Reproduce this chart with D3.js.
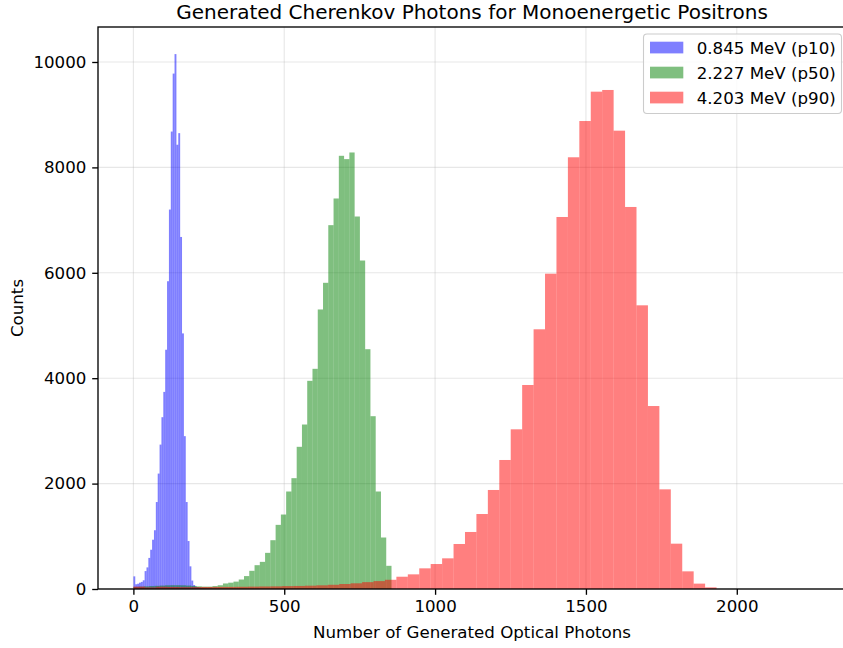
<!DOCTYPE html>
<html>
<head>
<meta charset="utf-8">
<script src="https://cdn.jsdelivr.net/npm/d3@7"></script>
<style>
  body { margin: 0; background: #fff; }
  svg { display: block; font-family: "DejaVu Sans", sans-serif; }
</style>
</head>
<body>
<div id="chart"></div>
<script>
// histogram counts, one value per bin
var blueCounts = [240, 90, 100, 120, 135, 165, 340, 410, 590, 745,
                  935, 1115, 1650, 2190, 2740, 3260, 3740, 4540, 5840, 7200,
                  8680, 9780, 10150, 8430, 8650, 6680, 4850, 2900, 1650, 910,
                  430, 160, 75, 45, 35, 28, 22, 18, 15, 12,
                  10, 8, 6, 5, 4, 3, 2, 2, 1, 1];
var greenCounts = [40, 45, 50, 55, 60, 65, 70, 72, 72, 70,
                   65, 58, 50, 45, 45, 55, 71, 105, 120, 140,
                   180, 245, 345, 452, 515, 686, 926, 1217, 1413, 1850,
                   2103, 2698, 3121, 3950, 4178, 5304, 5810, 6904, 7410, 8220,
                   8157, 8283, 7068, 6233, 4550, 3279, 1850, 977, 440];
var redCounts = [45, 30, 42, 38, 35, 36, 38, 40, 40, 42,
                 45, 48, 50, 55, 58, 63, 70, 80, 95, 108,
                 130, 150, 175, 233, 278, 392, 474, 582, 854, 1082,
                 1423, 1879, 2448, 3030, 3871, 4928, 5983, 7059, 8192, 8880,
                 9437, 9469, 8697, 7249, 5383, 3472, 1891, 860, 335, 102, 31];

// bin start and bin width of each histogram (photons)
var binStarts = [0, 0, 0];
var binWidths = [6.2, 17.46, 37.9];

var seriesNames = ["0.845 MeV (p10)", "2.227 MeV (p50)", "4.203 MeV (p90)"];
var seriesColors = ["blue", "green", "red"];

var xTicks = [0, 500, 1000, 1500, 2000];
var yTicks = [0, 2000, 4000, 6000, 8000, 10000];

var W = 843, H = 648;
var fs = 16.67;   // 10pt
var margin = {top: 27, left: 98, right: 846, bottom: 589};

var svg = d3.select("#chart").append("svg")
    .attr("width", W)
    .attr("height", H);

var x = d3.scaleLinear()
    .domain([-117.3, 2362])
    .range([margin.left, margin.right]);

var y = d3.scaleLinear()
    .domain([0, 10664])
    .range([margin.bottom, margin.top]);

// grid
var grid = svg.append("g").attr("stroke", "#b0b0b0").attr("stroke-opacity", 0.3).attr("stroke-width", 1.1);
grid.selectAll(".gx").data(xTicks).join("line")
    .attr("x1", d => x(d)).attr("x2", d => x(d))
    .attr("y1", margin.top).attr("y2", margin.bottom);
grid.selectAll(".gy").data(yTicks).join("line")
    .attr("x1", margin.left).attr("x2", margin.right)
    .attr("y1", d => y(d)).attr("y2", d => y(d));

// histograms
var allCounts = [blueCounts, greenCounts, redCounts];
allCounts.forEach(function(counts, s) {
    var bins = counts.map(function(c, i) {
        return {x0: binStarts[s] + i * binWidths[s], x1: binStarts[s] + (i + 1) * binWidths[s], n: c};
    });
    svg.append("g")
        .attr("fill", seriesColors[s])
        .attr("fill-opacity", 0.5)
      .selectAll("rect")
      .data(bins)
      .join("rect")
        .attr("x", d => x(d.x0))
        .attr("width", d => x(d.x1) - x(d.x0))
        .attr("y", d => y(d.n))
        .attr("height", d => y(0) - y(d.n));
});

// axes
var xAxisG = svg.append("g")
    .attr("transform", "translate(0," + margin.bottom + ")")
    .call(d3.axisBottom(x).tickValues(xTicks).tickSize(5.8).tickPadding(5.8).tickFormat(d3.format("d")));
var yAxisG = svg.append("g")
    .attr("transform", "translate(" + margin.left + ",0)")
    .call(d3.axisLeft(y).tickValues(yTicks).tickSize(5.8).tickPadding(5.8).tickFormat(d3.format("d")));
[xAxisG, yAxisG].forEach(function(g) {
    g.select(".domain").remove();
    g.selectAll("line").attr("stroke", "#000").attr("stroke-width", 1.33);
    g.selectAll("text").attr("font-size", fs).attr("fill", "#000")
        .attr("font-family", "DejaVu Sans");
});

// spines
svg.append("rect")
    .attr("x", margin.left).attr("y", margin.top)
    .attr("width", margin.right - margin.left)
    .attr("height", margin.bottom - margin.top)
    .attr("fill", "none").attr("stroke", "#000").attr("stroke-width", 1.33);

// labels
svg.append("text")
    .attr("x", (margin.left + margin.right) / 2)
    .attr("y", 19)
    .attr("text-anchor", "middle")
    .attr("font-size", 20)
    .text("Generated Cherenkov Photons for Monoenergetic Positrons");

svg.append("text")
    .attr("x", (margin.left + margin.right) / 2)
    .attr("y", 638)
    .attr("text-anchor", "middle")
    .attr("font-size", fs)
    .text("Number of Generated Optical Photons");

svg.append("text")
    .attr("transform", "translate(23," + (margin.top + margin.bottom) / 2 + ") rotate(-90)")
    .attr("text-anchor", "middle")
    .attr("font-size", fs)
    .text("Counts");

// legend
var legend = svg.append("g");
legend.append("rect")
    .attr("x", 643.5).attr("y", 34)
    .attr("width", 198).attr("height", 79.5)
    .attr("rx", 3.5)
    .attr("fill", "#fff").attr("fill-opacity", 0.8)
    .attr("stroke", "#cccccc").attr("stroke-width", 1.1);
var rows = legend.selectAll(".row").data(seriesNames).join("g")
    .attr("transform", (d, i) => "translate(650," + (47.5 + i * 25) + ")");
rows.append("rect")
    .attr("x", 0).attr("y", -5.8)
    .attr("width", 33.3).attr("height", 11.7)
    .attr("fill", (d, i) => seriesColors[i]).attr("fill-opacity", 0.5);
rows.append("text")
    .attr("x", 46.7)
    .attr("dy", "0.36em")
    .attr("font-size", fs)
    .text(d => d);
</script>
</body>
</html>
